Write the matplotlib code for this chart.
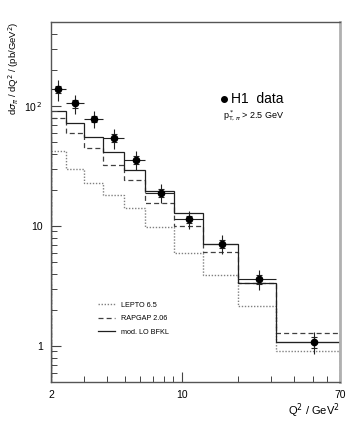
import numpy as np
import matplotlib
matplotlib.use("Agg")
import matplotlib.pyplot as plt
from matplotlib.ticker import FixedLocator, NullFormatter, FixedFormatter

plt.rcParams['font.family'] = ['Liberation Sans', 'DejaVu Sans']

# Q2 bin edges (GeV^2)
edges = [2.0, 2.4, 3.0, 3.8, 4.9, 6.4, 9.1, 13.0, 20.0, 32.0, 70.0]

# H1 data
q2_pts = [2.19, 2.70, 3.41, 4.34, 5.67, 7.77, 11.0, 16.4, 25.9, 51.0]
xsec = [138.0, 105.0, 78.0, 54.0, 35.5, 19.0, 11.4, 7.1, 3.6, 1.08]
err_tot = [28.0, 19.0, 13.0, 10.0, 6.5, 3.4, 2.0, 1.3, 0.7, 0.22]
err_stat = [10.0, 8.0, 5.0, 4.0, 2.5, 1.4, 0.8, 0.5, 0.3, 0.11]

# model predictions
lepto = [42.2, 29.7, 22.7, 18.0, 14.1, 9.87, 5.99, 3.93, 2.14, 0.90]
rapgap = [79.9, 59.6, 44.4, 32.0, 24.0, 15.6, 9.94, 6.01, 3.32, 1.27]
bfkl = [90.3, 72.1, 54.8, 41.4, 29.5, 19.6, 12.8, 7.11, 3.37, 1.07]

fig = plt.figure(figsize=(3.54, 4.25), dpi=100)
ax = fig.add_axes([0.144, 0.101, 0.816, 0.847])

ax.stairs(lepto, edges, color='#808080', lw=1.0, ls=(0, (1, 1.2)), label='LEPTO 6.5')
ax.stairs(rapgap, edges, color='#404040', lw=0.9, ls=(0, (4, 2.5)), label='RAPGAP 2.06')
ax.stairs(bfkl, edges, color='#202020', lw=0.9, label='mod. LO BFKL')

lo = np.array(edges[:-1])
hi = np.array(edges[1:])
x = np.array(q2_pts)
xerr = [x - lo, hi - x]
ax.errorbar(x, xsec, xerr=xerr, yerr=err_tot, fmt='none', ecolor='#222222', elinewidth=0.8)
ax.errorbar(x, xsec, yerr=err_stat, fmt='o', color='black', ms=4.5,
            ecolor='#222222', elinewidth=0.8, capsize=2, capthick=0.8)

ax.set_xscale('log')
ax.set_yscale('log')
ax.set_xlim(2, 70)
ax.set_ylim(0.5, 500)

ax.xaxis.set_major_locator(FixedLocator([2, 10, 70]))
ax.xaxis.set_major_formatter(FixedFormatter(['2', '10', '70']))
ax.xaxis.set_minor_locator(FixedLocator([3, 4, 5, 6, 7, 8, 9, 20, 30, 40, 50, 60]))
ax.xaxis.set_minor_formatter(NullFormatter())
ax.yaxis.set_major_locator(FixedLocator([1, 10, 100]))
ax.yaxis.set_major_formatter(FixedFormatter(['1', '10', r'10$^{\,2}$']))
minors = [m * d for d in (0.1, 1, 10, 100) for m in range(2, 10)]
ax.yaxis.set_minor_locator(FixedLocator(minors))
ax.yaxis.set_minor_formatter(NullFormatter())

ax.tick_params(which='both', direction='in', top=False, right=False,
               labelsize=7.5, color='#444444', pad=6)
ax.tick_params(which='major', length=7, width=0.8)
ax.tick_params(which='minor', length=4, width=0.7)

for s in ['left', 'bottom', 'top']:
    ax.spines[s].set_color('#555555')
    ax.spines[s].set_linewidth(1.0)
ax.spines['right'].set_color('#b0b0b0')
ax.spines['right'].set_linewidth(2.0)

ax.set_ylabel(r'd$\sigma_\pi$ / dQ$^2$ / (pb/GeV$^2$)', fontsize=6.8, loc='top', labelpad=2)
ax.set_xlabel(r'Q$^2$ / GeV$^2$', fontsize=8, loc='right', labelpad=1)

ax.plot([0.60], [0.786], 'o', color='black', ms=4, transform=ax.transAxes)
ax.text(0.622, 0.786, 'H1  data', transform=ax.transAxes, fontsize=10, va='center')
ax.text(0.595, 0.74, r'p$^*_{\mathrm{T},\pi}$ > 2.5 GeV', transform=ax.transAxes,
        fontsize=6.5, va='center')

ax.legend(loc='lower left', bbox_to_anchor=(0.14, 0.11), frameon=False,
          fontsize=5.2, handlelength=2.4, labelspacing=0.9)

fig.savefig('out.png', dpi=100)
